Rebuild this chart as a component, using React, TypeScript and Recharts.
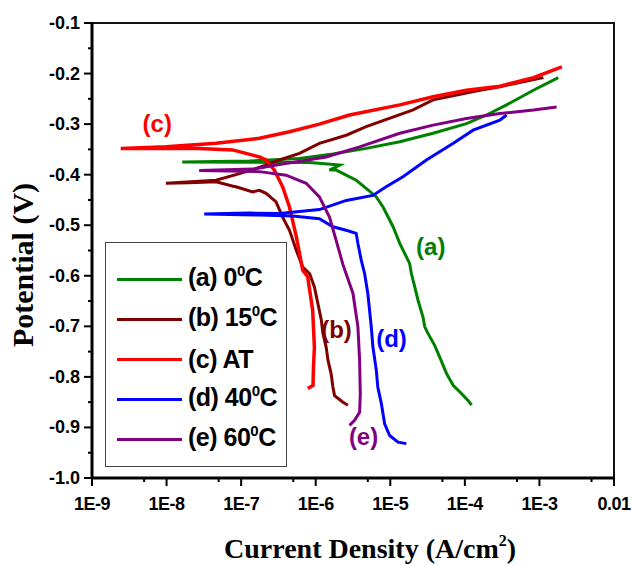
import { LineChart, Line, XAxis, YAxis, Legend, ReferenceDot, ReferenceArea } from 'recharts'

// [current density (A/cm2), potential (V)], cathodic branch first, then anodic
const curveA: [number, number][] = [
  [1.23e-4, -0.856], [1.11e-4, -0.847], [8.6e-5, -0.83], [7.0e-5, -0.817], [5.7e-5, -0.794],
  [4.6e-5, -0.761], [3.95e-5, -0.738], [3.2e-5, -0.714], [2.9e-5, -0.701], [2.75e-5, -0.682],
  [2.36e-5, -0.649], [2.13e-5, -0.622], [1.92e-5, -0.596], [1.82e-5, -0.576], [1.34e-5, -0.536],
  [1.09e-5, -0.503], [8.0e-6, -0.464], [6.5e-6, -0.444], [4.75e-6, -0.427], [3.5e-6, -0.411],
  [2.56e-6, -0.401], [1.88e-6, -0.391], [1.53e-6, -0.391], [2.1e-6, -0.381], [8.3e-7, -0.376],
  [1.62e-8, -0.375], [1.29e-7, -0.373], [6.05e-7, -0.368], [1.7e-6, -0.359], [4.76e-6, -0.348],
  [1.34e-5, -0.335], [3.75e-5, -0.318], [1.05e-4, -0.299], [1.95e-4, -0.282], [3.63e-4, -0.262],
  [8.3e-4, -0.233], [1.79e-3, -0.208],
]

const curveB: [number, number][] = [
  [2.7e-6, -0.856], [2.32e-6, -0.85], [1.79e-6, -0.837], [1.7e-6, -0.82], [1.61e-6, -0.794],
  [1.46e-6, -0.767], [1.38e-6, -0.741], [1.25e-6, -0.714], [1.19e-6, -0.688], [1.07e-6, -0.655],
  [9.6e-7, -0.622], [8.3e-7, -0.596], [6.7e-7, -0.583], [5.5e-7, -0.55], [4.45e-7, -0.51],
  [3.6e-7, -0.484], [2.94e-7, -0.454], [2.16e-7, -0.437], [1.76e-7, -0.431], [1.43e-7, -0.434],
  [8.5e-8, -0.424], [7.8e-8, -0.423], [4.6e-8, -0.414], [2.0e-8, -0.416], [9.8e-9, -0.417],
  [4.6e-8, -0.411], [9.5e-8, -0.398], [1.58e-7, -0.388], [3.26e-7, -0.371], [6.05e-7, -0.358],
  [1.12e-6, -0.338], [2.57e-6, -0.322], [4.76e-6, -0.305], [2.02e-5, -0.272], [3.75e-5, -0.252],
  [1.59e-4, -0.233], [2.95e-4, -0.226], [1.13e-3, -0.208],
]

const curveC: [number, number][] = [
  [7.83e-7, -0.823], [9.2e-7, -0.817], [9.3e-7, -0.787], [9.6e-7, -0.741], [9.1e-7, -0.668],
  [7.8e-7, -0.602], [6.7e-7, -0.589], [5.5e-7, -0.523], [4.45e-7, -0.464], [3.6e-7, -0.424],
  [2.79e-7, -0.391], [2.16e-7, -0.371], [1.76e-7, -0.365], [7.7e-8, -0.351], [2.74e-8, -0.348],
  [2.43e-9, -0.348], [9.8e-9, -0.345], [4.6e-8, -0.338], [1.76e-7, -0.328], [4.45e-7, -0.315],
  [1.12e-6, -0.3], [2.84e-6, -0.282], [1.34e-5, -0.262], [3.75e-5, -0.246], [1.05e-4, -0.233],
  [2.95e-4, -0.225], [8.3e-4, -0.208], [2.0e-3, -0.187],
]

const curveD: [number, number][] = [
  [1.64e-5, -0.932], [1.27e-5, -0.929], [9.8e-6, -0.916], [8.4e-6, -0.893], [7.6e-6, -0.853],
  [6.8e-6, -0.82], [6.5e-6, -0.787], [5.85e-6, -0.741], [5.56e-6, -0.701], [5.0e-6, -0.635],
  [4.53e-6, -0.596], [4.08e-6, -0.569], [3.68e-6, -0.536], [3.49e-6, -0.516], [2.56e-6, -0.51],
  [1.7e-6, -0.503], [1.12e-6, -0.487], [4.9e-7, -0.482], [1.76e-7, -0.48], [3.2e-8, -0.478],
  [1.29e-7, -0.476], [3.26e-7, -0.477], [1.12e-6, -0.469], [2.57e-6, -0.451], [5.85e-6, -0.441],
  [8.8e-6, -0.424], [1.48e-5, -0.404], [3.05e-5, -0.371], [7.0e-5, -0.338], [1.29e-4, -0.312],
  [2.95e-4, -0.292], [3.63e-4, -0.282],
]

const curveE: [number, number][] = [
  [2.84e-6, -0.896], [3.32e-6, -0.886], [3.88e-6, -0.87], [3.96e-6, -0.833], [3.88e-6, -0.767],
  [3.68e-6, -0.701], [3.16e-6, -0.635], [2.32e-6, -0.578], [1.88e-6, -0.53], [1.53e-6, -0.484],
  [1.12e-6, -0.444], [7.45e-7, -0.417], [4.0e-7, -0.401], [1.76e-7, -0.394], [2.74e-8, -0.392],
  [1.43e-7, -0.389], [3.26e-7, -0.38], [1.38e-6, -0.365], [3.88e-6, -0.345], [1.34e-5, -0.318],
  [3.75e-5, -0.302], [1.05e-4, -0.289], [2.95e-4, -0.279], [8.3e-4, -0.272], [1.7e-3, -0.266],
]

// legend text: [before superscript, superscript, after]
const legendText: Record<string, [string, string, string]> = {
  a: ['(a) 0', '0', 'C'],
  b: ['(b) 15', '0', 'C'],
  c: ['(c) AT', '', ''],
  d: ['(d) 40', '0', 'C'],
  e: ['(e) 60', '0', 'C'],
}

// curve tags drawn next to each curve
const tagText = ['(a)', '(b)', '(c)', '(d)', '(e)']
const tagCurrent = [3.49e-5, 1.9e-6, 7.5e-9, 1.04e-5, 4.38e-6]
const tagPotential = [-0.542, -0.706, -0.298, -0.724, -0.918]

const xMajorTicks = [1e-9, 1e-8, 1e-7, 1e-6, 1e-5, 1e-4, 1e-3, 1e-2]
const xMinorTicks = [5e-9, 5e-8, 5e-7, 5e-6, 5e-5, 5e-4, 5e-3]
const xTickLabels = ['1E-9', '1E-8', '1E-7', '1E-6', '1E-5', '1E-4', '1E-3', '0.01']
const yMajorTicks = [-1.0, -0.9, -0.8, -0.7, -0.6, -0.5, -0.4, -0.3, -0.2, -0.1]
const yMinorTicks = [-0.95, -0.85, -0.75, -0.65, -0.55, -0.45, -0.35, -0.25, -0.15]

const SERIES = [
  { key: 'a', points: curveA, color: '#008000', width: 3 },
  { key: 'b', points: curveB, color: '#800000', width: 3 },
  { key: 'c', points: curveC, color: '#ff0000', width: 3.5 },
  { key: 'd', points: curveD, color: '#0000ff', width: 3 },
  { key: 'e', points: curveE, color: '#800080', width: 3 },
]

const SANS = '"Liberation Sans", Arial, sans-serif'
const SERIF = '"Liberation Serif", "Times New Roman", serif'

function CurrentTick({ x, y, payload }: any) {
  const i = xMajorTicks.indexOf(payload.value)
  const major = i >= 0
  return (
    <g>
      <line x1={x} x2={x} y1={y} y2={y + (major ? 8 : 4)} stroke="#000" strokeWidth={2} />
      {major && (
        <text x={x} y={y + 32} textAnchor="middle" fontFamily={SANS} fontWeight="bold" fontSize={18}
          letterSpacing={-0.5} fill="#000">
          {xTickLabels[i]}
        </text>
      )}
    </g>
  )
}

function PotentialTick({ x, y, payload }: any) {
  const major = yMajorTicks.includes(payload.value)
  return (
    <g>
      <line x1={x} x2={x - (major ? 8 : 4)} y1={y} y2={y} stroke="#000" strokeWidth={2} />
      {major && (
        <text x={x - 12} y={y + 6} textAnchor="end" fontFamily={SANS} fontWeight="bold" fontSize={18} fill="#000">
          {payload.value.toFixed(1)}
        </text>
      )}
    </g>
  )
}

function xTitle({ viewBox }: any) {
  return (
    <text x={viewBox.x + 132} y={viewBox.y + 80} fontFamily={SERIF} fontWeight="bold" fontSize={28} fill="#000">
      Current Density (A/cm
      <tspan dy={-12} fontSize={16}>2</tspan>
      <tspan dy={12}>)</tspan>
    </text>
  )
}

function yTitle({ viewBox }: any) {
  const cx = viewBox.x + 33
  const cy = viewBox.y + 242
  return (
    <text x={cx} y={cy} transform={`rotate(-90 ${cx} ${cy})`} textAnchor="middle"
      fontFamily={SERIF} fontWeight="bold" fontSize={30} fill="#000">
      Potential (V)
    </text>
  )
}

function LegendBox({ payload }: any) {
  return (
    <div style={{
      width: 182, height: 225, boxSizing: 'border-box', border: '1.5px solid #444',
      background: '#fff', paddingTop: 16,
    }}>
      {(payload ?? []).map((entry: any) => {
        const [pre, sup, post] = legendText[entry.value]
        return (
          <div key={entry.value} style={{ display: 'flex', alignItems: 'center', height: 40 }}>
            <span style={{ width: 65, height: 3, background: entry.color, marginLeft: 11, marginRight: 6 }} />
            <span style={{ fontFamily: SANS, fontWeight: 'bold', fontSize: 25, lineHeight: '25px', color: '#000', letterSpacing: -0.5 }}>
              {pre}
              {sup && <span style={{ fontSize: 15, position: 'relative', top: -10 }}>{sup}</span>}
              {post}
            </span>
          </div>
        )
      })}
    </div>
  )
}

export default function App() {
  return (
    <div style={{ width: 631, height: 566, background: '#fff' }}>
      <style>{'body{margin:0}'}</style>
      <LineChart width={631} height={566} margin={{ top: 23, right: 17, bottom: 0, left: 0 }}>
        <XAxis
          dataKey="x"
          type="number"
          scale="log"
          domain={[1e-9, 1e-2]}
          allowDataOverflow
          ticks={[...xMajorTicks, ...xMinorTicks].sort((p, q) => p - q)}
          interval={0}
          tick={CurrentTick}
          tickLine={false}
          tickSize={0}
          tickMargin={0}
          axisLine={{ stroke: '#000', strokeWidth: 3 }}
          height={88}
          label={xTitle}
        />
        <YAxis
          dataKey="y"
          type="number"
          domain={[-1, -0.1]}
          allowDataOverflow
          ticks={[...yMajorTicks, ...yMinorTicks].sort((p, q) => p - q)}
          interval={0}
          tick={PotentialTick}
          tickLine={false}
          tickSize={0}
          tickMargin={0}
          axisLine={{ stroke: '#000', strokeWidth: 3 }}
          width={92}
          label={yTitle}
        />
        <ReferenceArea x1={1e-9} x2={1e-2} y1={-1} y2={-0.1} fill="none" stroke="#111" strokeWidth={2} ifOverflow="visible" />
        {SERIES.map((s) => (
          <Line
            key={s.key}
            name={s.key}
            data={s.points.map(([x, y]) => ({ x, y }))}
            dataKey="y"
            type="linear"
            stroke={s.color}
            strokeWidth={s.width}
            dot={false}
            isAnimationActive={false}
          />
        ))}
        {tagText.map((t, i) => (
          <ReferenceDot
            key={t}
            x={tagCurrent[i]}
            y={tagPotential[i]}
            r={0}
            fill="none"
            stroke="none"
            label={{
              value: t, position: 'center', fill: SERIES[i].color,
              fontSize: 24, fontWeight: 'bold', fontFamily: SANS,
            }}
          />
        ))}
        <Legend
          layout="vertical"
          align="center"
          verticalAlign="middle"
          content={LegendBox}
          wrapperStyle={{ left: 105, top: 242, width: 182, height: 225 }}
        />
      </LineChart>
    </div>
  )
}
